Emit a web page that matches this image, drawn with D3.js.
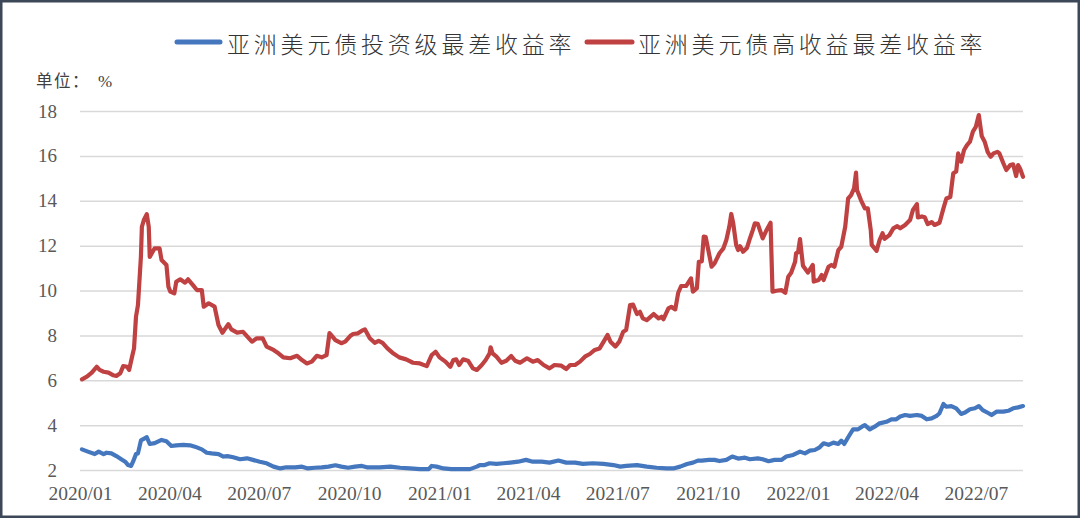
<!DOCTYPE html>
<html><head><meta charset="utf-8">
<script src="https://cdn.jsdelivr.net/npm/d3@7"></script>
<style>
html,body{margin:0;padding:0;background:#fff;}
svg{display:block;}
</style></head>
<body>
<svg id="chart" width="1080" height="518"></svg>
<script>
const seriesNames = ["亚洲美元债投资级最差收益率", "亚洲美元债高收益最差收益率"];
const unitLabel = "单位：";
const unitSymbol = "%";
const yTicks = [2, 4, 6, 8, 10, 12, 14, 16, 18];

const hyDates = ["2020-01-03","2020-01-08","2020-01-13","2020-01-18","2020-01-21","2020-01-25","2020-01-30","2020-02-04","2020-02-07","2020-02-11","2020-02-14","2020-02-18","2020-02-20","2020-02-23","2020-02-25","2020-02-27","2020-02-29","2020-03-03","2020-03-04","2020-03-06","2020-03-09","2020-03-11","2020-03-12","2020-03-14","2020-03-17","2020-03-22","2020-03-24","2020-03-29","2020-03-31","2020-04-02","2020-04-06","2020-04-08","2020-04-12","2020-04-17","2020-04-20","2020-04-25","2020-04-29","2020-05-04","2020-05-06","2020-05-11","2020-05-17","2020-05-21","2020-05-25","2020-05-31","2020-06-03","2020-06-09","2020-06-15","2020-06-24","2020-06-29","2020-07-05","2020-07-09","2020-07-16","2020-07-21","2020-07-26","2020-08-02","2020-08-09","2020-08-14","2020-08-19","2020-08-24","2020-08-29","2020-09-03","2020-09-08","2020-09-11","2020-09-13","2020-09-17","2020-09-23","2020-09-27","2020-10-02","2020-10-05","2020-10-10","2020-10-14","2020-10-17","2020-10-22","2020-10-27","2020-10-31","2020-11-04","2020-11-09","2020-11-14","2020-11-21","2020-11-28","2020-12-05","2020-12-12","2020-12-19","2020-12-24","2020-12-28","2021-01-01","2021-01-07","2021-01-12","2021-01-15","2021-01-18","2021-01-21","2021-01-25","2021-01-30","2021-02-04","2021-02-08","2021-02-13","2021-02-17","2021-02-21","2021-02-22","2021-02-24","2021-02-28","2021-03-05","2021-03-10","2021-03-15","2021-03-19","2021-03-24","2021-03-31","2021-04-06","2021-04-11","2021-04-17","2021-04-23","2021-04-28","2021-05-05","2021-05-10","2021-05-14","2021-05-19","2021-05-24","2021-05-29","2021-06-03","2021-06-08","2021-06-13","2021-06-18","2021-06-21","2021-06-24","2021-06-29","2021-07-03","2021-07-07","2021-07-10","2021-07-14","2021-07-17","2021-07-21","2021-07-24","2021-07-27","2021-07-31","2021-08-07","2021-08-12","2021-08-15","2021-08-17","2021-08-22","2021-08-25","2021-08-29","2021-09-01","2021-09-04","2021-09-09","2021-09-14","2021-09-16","2021-09-20","2021-09-22","2021-09-25","2021-09-27","2021-09-29","2021-10-05","2021-10-08","2021-10-13","2021-10-17","2021-10-20","2021-10-23","2021-10-25","2021-10-27","2021-10-30","2021-11-01","2021-11-03","2021-11-06","2021-11-10","2021-11-13","2021-11-16","2021-11-18","2021-11-21","2021-11-26","2021-11-30","2021-12-04","2021-12-06","2021-12-10","2021-12-15","2021-12-19","2021-12-22","2021-12-25","2021-12-29","2021-12-30","2022-01-01","2022-01-03","2022-01-06","2022-01-11","2022-01-16","2022-01-17","2022-01-22","2022-01-25","2022-01-27","2022-02-01","2022-02-04","2022-02-07","2022-02-11","2022-02-14","2022-02-18","2022-02-21","2022-02-24","2022-02-27","2022-03-01","2022-03-02","2022-03-06","2022-03-10","2022-03-13","2022-03-16","2022-03-17","2022-03-22","2022-03-25","2022-03-28","2022-03-30","2022-04-04","2022-04-08","2022-04-12","2022-04-15","2022-04-20","2022-04-25","2022-04-28","2022-05-02","2022-05-03","2022-05-07","2022-05-10","2022-05-13","2022-05-17","2022-05-20","2022-05-25","2022-05-29","2022-06-01","2022-06-05","2022-06-08","2022-06-11","2022-06-13","2022-06-16","2022-06-19","2022-06-22","2022-06-25","2022-06-28","2022-07-01","2022-07-04","2022-07-07","2022-07-10","2022-07-13","2022-07-16","2022-07-19","2022-07-23","2022-07-25","2022-07-29","2022-08-01","2022-08-05","2022-08-08","2022-08-11","2022-08-13","2022-08-15","2022-08-18"];
const hyValues = [6.04,6.16,6.34,6.60,6.46,6.38,6.34,6.22,6.19,6.31,6.63,6.60,6.46,7.05,7.42,8.83,9.35,11.5,12.84,13.14,13.4,12.84,11.5,11.65,11.88,11.88,11.36,11.14,10.17,9.95,9.87,10.39,10.5,10.35,10.5,10.24,10.02,10.02,9.28,9.43,9.28,8.46,8.12,8.5,8.27,8.12,8.16,7.72,7.87,7.87,7.5,7.35,7.2,7.02,6.98,7.09,6.9,6.75,6.83,7.09,7.02,7.12,8.1,8.0,7.79,7.65,7.72,7.97,8.06,8.09,8.21,8.27,7.87,7.67,7.76,7.67,7.42,7.23,7.02,6.93,6.78,6.75,6.63,7.12,7.27,7.02,6.83,6.6,6.9,6.93,6.68,6.93,6.87,6.53,6.46,6.68,6.9,7.2,7.47,7.2,7.05,6.78,6.87,7.08,6.87,6.78,6.98,6.83,6.9,6.68,6.53,6.68,6.65,6.5,6.68,6.68,6.83,7.05,7.17,7.35,7.42,7.79,8.02,7.72,7.5,7.72,8.16,8.24,9.35,9.37,8.95,9.05,8.76,8.68,8.95,8.76,8.83,8.72,9.2,9.27,9.16,9.9,10.2,10.2,10.54,9.95,10.1,11.28,11.3,12.4,12.38,11.06,11.21,11.66,11.88,12.25,12.84,13.41,13.0,12.03,11.8,11.97,11.73,11.9,12.32,12.7,12.99,12.97,12.32,12.7,13.02,9.95,9.99,10.02,9.9,10.61,10.79,11.28,11.66,11.7,12.29,11.1,10.8,11.14,10.4,10.47,10.69,10.47,11.06,11.14,11.06,11.8,11.95,12.84,14.1,14.25,14.55,15.25,14.48,14.03,13.66,13.66,12.7,12.03,11.77,12.25,12.55,12.3,12.47,12.77,12.87,12.77,12.92,13.14,13.59,13.85,13.26,13.3,13.26,12.96,13.05,12.92,13.02,13.66,14.1,14.17,15.22,15.3,16.11,15.74,16.26,16.48,16.63,17.08,17.3,17.82,16.88,16.63,16.18,15.96,16.11,16.18,16.11,15.67,15.37,15.59,15.62,15.1,15.59,15.44,15.07];

const igDates = ["2020-01-03","2020-01-09","2020-01-16","2020-01-20","2020-01-25","2020-01-28","2020-02-02","2020-02-07","2020-02-12","2020-02-16","2020-02-19","2020-02-22","2020-02-24","2020-02-27","2020-02-29","2020-03-03","2020-03-05","2020-03-09","2020-03-12","2020-03-17","2020-03-24","2020-03-29","2020-04-03","2020-04-08","2020-04-15","2020-04-22","2020-04-27","2020-05-04","2020-05-09","2020-05-14","2020-05-21","2020-05-26","2020-05-30","2020-06-05","2020-06-12","2020-06-19","2020-06-25","2020-07-02","2020-07-09","2020-07-16","2020-07-23","2020-07-29","2020-08-07","2020-08-14","2020-08-20","2020-08-27","2020-09-03","2020-09-10","2020-09-17","2020-09-23","2020-09-30","2020-10-07","2020-10-14","2020-10-19","2020-10-26","2020-11-01","2020-11-12","2020-11-22","2020-12-02","2020-12-12","2020-12-21","2020-12-24","2020-12-29","2021-01-05","2021-01-13","2021-01-22","2021-02-01","2021-02-08","2021-02-11","2021-02-16","2021-02-21","2021-02-28","2021-03-07","2021-03-14","2021-03-22","2021-03-30","2021-04-06","2021-04-15","2021-04-23","2021-05-02","2021-05-10","2021-05-19","2021-05-27","2021-06-06","2021-06-17","2021-06-27","2021-07-04","2021-07-10","2021-07-21","2021-07-31","2021-08-10","2021-08-20","2021-08-27","2021-09-03","2021-09-10","2021-09-16","2021-09-21","2021-09-25","2021-10-02","2021-10-08","2021-10-13","2021-10-20","2021-10-26","2021-11-01","2021-11-08","2021-11-13","2021-11-21","2021-11-26","2021-12-02","2021-12-08","2021-12-15","2021-12-20","2021-12-27","2022-01-03","2022-01-08","2022-01-13","2022-01-18","2022-01-23","2022-01-27","2022-02-01","2022-02-06","2022-02-11","2022-02-14","2022-02-17","2022-02-21","2022-02-26","2022-03-03","2022-03-07","2022-03-10","2022-03-15","2022-03-20","2022-03-25","2022-04-01","2022-04-06","2022-04-11","2022-04-15","2022-04-20","2022-04-25","2022-05-02","2022-05-07","2022-05-12","2022-05-17","2022-05-22","2022-05-25","2022-05-29","2022-06-01","2022-06-06","2022-06-11","2022-06-16","2022-06-20","2022-06-25","2022-06-30","2022-07-04","2022-07-08","2022-07-14","2022-07-17","2022-07-22","2022-07-29","2022-08-03","2022-08-08","2022-08-13","2022-08-18"];
const igValues = [2.92,2.82,2.71,2.82,2.71,2.77,2.74,2.62,2.48,2.37,2.22,2.18,2.37,2.71,2.74,3.31,3.37,3.46,3.16,3.2,3.34,3.28,3.07,3.1,3.12,3.1,3.04,2.92,2.77,2.74,2.71,2.6,2.62,2.57,2.48,2.52,2.45,2.37,2.3,2.15,2.07,2.12,2.12,2.15,2.07,2.1,2.12,2.15,2.21,2.15,2.1,2.15,2.18,2.12,2.12,2.12,2.15,2.1,2.07,2.04,2.04,2.18,2.15,2.07,2.04,2.04,2.04,2.15,2.22,2.22,2.3,2.27,2.3,2.33,2.37,2.45,2.37,2.37,2.33,2.42,2.33,2.33,2.27,2.3,2.27,2.22,2.15,2.18,2.22,2.15,2.1,2.07,2.07,2.15,2.27,2.33,2.42,2.42,2.45,2.45,2.4,2.45,2.6,2.51,2.55,2.48,2.52,2.48,2.39,2.45,2.45,2.6,2.67,2.82,2.74,2.86,2.89,3.01,3.19,3.12,3.22,3.16,3.31,3.16,3.46,3.81,3.81,3.93,4.0,3.81,3.93,4.08,4.15,4.26,4.26,4.38,4.45,4.41,4.45,4.41,4.26,4.3,4.41,4.53,4.94,4.82,4.85,4.75,4.5,4.56,4.71,4.75,4.85,4.67,4.53,4.45,4.6,4.6,4.64,4.75,4.79,4.85];

const colors = ["#4477be", "#bf4141"];

const svg = d3.select("#chart");
const W = 1080, H = 518;
const parse = d3.timeParse("%Y-%m-%d");
const serif = "'Liberation Serif', 'Times New Roman', serif";
const cjk = "'Noto Sans CJK SC', sans-serif";

// frame
svg.append("rect").attr("x", 1.25).attr("y", 1.25).attr("width", W - 2.5).attr("height", H - 2.5)
  .attr("fill", "#fff").attr("stroke", "#3c4757").attr("stroke-width", 2.5);

const x = d3.scaleTime().domain([parse("2020-01-01"), parse("2022-08-18")]).range([80, 1023]);
const y = d3.scaleLinear().domain([2, 18]).range([470, 111]);

// gridlines + y labels
const yAxis = d3.axisLeft(y).tickValues(yTicks).tickSize(-(1023 - 80)).tickPadding(23).tickFormat(d3.format("d"));
const gy = svg.append("g").attr("transform", "translate(80,0)").call(yAxis);
gy.select(".domain").remove();
gy.selectAll(".tick line").attr("stroke", "#d9d9d9").attr("stroke-width", 1.5);
gy.selectAll(".tick text").attr("fill", "#595959").attr("font-family", serif).attr("font-size", 19);

// x axis labels
const xAxis = d3.axisBottom(x).ticks(d3.timeMonth.every(3)).tickSize(0).tickPadding(16).tickFormat(d3.timeFormat("%Y/%m"));
const gx = svg.append("g").attr("transform", "translate(0,470)").call(xAxis);
gx.select(".domain").remove();
gx.selectAll(".tick text").attr("fill", "#595959").attr("font-family", serif).attr("font-size", 19.5);

// lines
const line = d3.line().x(d => x(d[0])).y(d => y(d[1])).curve(d3.curveLinear);
const igData = igDates.map((d, i) => [parse(d), igValues[i]]);
const hyData = hyDates.map((d, i) => [parse(d), hyValues[i]]);
[igData, hyData].forEach((data, i) => {
  svg.append("path").datum(data).attr("d", line).attr("fill", "none")
    .attr("stroke", colors[i]).attr("stroke-width", 4.2)
    .attr("stroke-linejoin", "round").attr("stroke-linecap", "round");
});

// unit label
const ut = svg.append("text").attr("x", 36).attr("y", 87)
  .attr("font-family", cjk).attr("font-size", 16.5)
  .attr("letter-spacing", 1.5).attr("fill", "#404040");
ut.append("tspan").text(unitLabel);
ut.append("tspan").attr("dx", 8).attr("font-family", serif).attr("font-size", 17).text(unitSymbol);

// legend
const legendItems = [{x0: 177, x1: 220, tx: 227}, {x0: 587, x1: 632, tx: 638}];
legendItems.forEach((it, i) => {
  svg.append("line").attr("x1", it.x0).attr("x2", it.x1).attr("y1", 42).attr("y2", 42)
    .attr("stroke", colors[i]).attr("stroke-width", 5).attr("stroke-linecap", "round");
  svg.append("text").attr("x", it.tx).attr("y", 53).text(seriesNames[i])
    .attr("font-family", cjk).attr("font-size", 23)
    .attr("font-weight", 300)
    .attr("letter-spacing", 3.8).attr("fill", "#333");
});
</script>
</body></html>
